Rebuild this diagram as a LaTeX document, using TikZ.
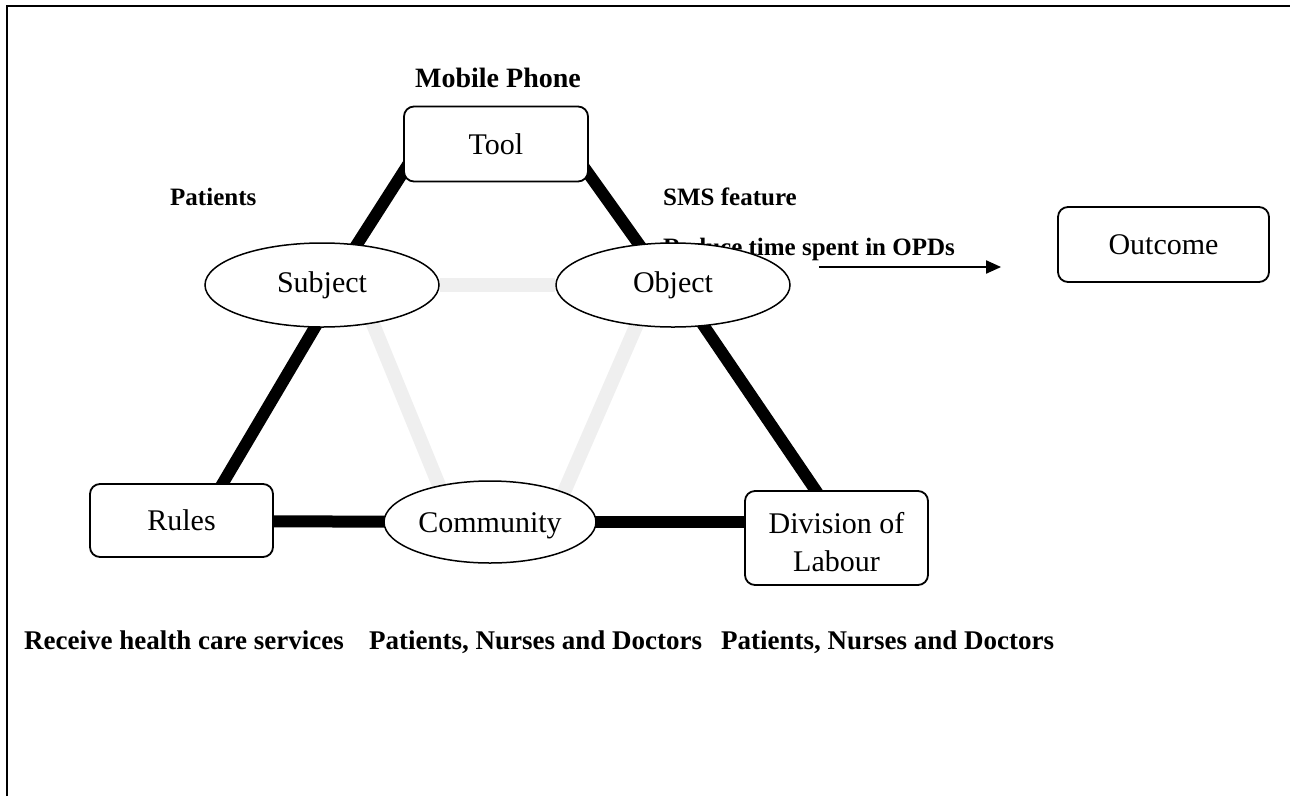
\documentclass[tikz,border=0pt]{standalone}
\usepackage{fontspec}
\setmainfont{Liberation Serif}
\usetikzlibrary{backgrounds,calc,arrows.meta,shapes.geometric}
\definecolor{faintgray}{HTML}{EFEFEF}

\begin{document}
\begin{tikzpicture}[x=1pt,y=-1pt,
  frame/.style={line width=2.2pt},
  box/.style={draw, line width=1.8pt, rounded corners=10pt, fill=white,
    align=center, inner sep=0pt, font=\fontsize{30}{37}\selectfont},
  oval/.style={draw, ellipse, line width=1.5pt, fill=white, inner sep=0pt,
    font=\fontsize{30}{37}\selectfont},
  note/.style={inner sep=0pt, font=\bfseries\fontsize{25}{30}\selectfont},
  bignote/.style={inner sep=0pt, font=\bfseries\fontsize{28}{32}\selectfont},
  footnote/.style={inner sep=0pt, font=\bfseries\fontsize{27}{32}\selectfont},
  heavy/.style={line width=12pt},
  faint/.style={line width=14pt, draw=faintgray},
  flow/.style={line width=2pt, -{Triangle[length=15pt,width=13pt]}},
]
\useasboundingbox (0,0) rectangle (1290,796);

% outer frame
\draw[frame] (7,796) -- (7,6) -- (1290,6);

% annotations
\node[bignote, anchor=base] (phone) at (498,87) {Mobile Phone};
\node[note, anchor=base west] (patients) at (170,205) {Patients};
\node[note, anchor=base west] (sms) at (663,205) {SMS feature};
\node[note, anchor=base west] (reduce) at (663,255) {Reduce time spent in OPDs};

% activity system elements
\node[box, minimum width=184, minimum height=75] (tool) at (496,144) {Tool};
\node[oval, minimum width=234, minimum height=84] (subject) at (322,285) {Subject};
\node[oval, minimum width=234, minimum height=84] (object) at (673,285) {Object};
\node[box, minimum width=183, minimum height=73] (rules) at (181.5,520.5) {Rules};
\node[oval, minimum width=212, minimum height=82] (community) at (490,522)
  {\raisebox{-4pt}[\height][\depth]{Community}};
\node[box, minimum width=183, minimum height=94] (division) at (836.5,538)
  {\raisebox{-7pt}[\height][\depth]{\begin{tabular}{@{}c@{}}Division of\\[0.5pt]Labour\end{tabular}}};
\node[box, minimum width=211, minimum height=75] (outcome) at (1163.5,244.5) {Outcome};

% links between the elements
\begin{pgfonlayer}{background}
  \draw[faint] (subject) -- (object);
  \draw[faint] ($(subject)+(35,0)$) -- ($(community)+(-36,0)$);
  \draw[faint] ($(object)+(-19,0)$) -- ($(community)+(61,0)$);
  \draw[heavy] ($(subject)+(9,0)$) -- ($(tool.south west)+(14,-32)$);
  \draw[heavy] ($(subject)+(18,0)$) -- ($(rules)+(25.5,-10.5)$);
  \draw[heavy] ($(object)+(-5,0)$) -- ($(tool.south east)+(-17,-32)$);
  \draw[heavy] ($(object)+(3,0)$) -- ($(division)+(-7.5,-28)$);
  \draw[heavy] ($(rules)+(0,0.5)$) -- (community.center);
  \draw[heavy] (community.center) -- (community -| division);
\end{pgfonlayer}

% result arrow
\draw[flow] ($(object.east)+(28,-18)$) -- ($(outcome.west)+(-56,22.5)$);

% bottom annotations
\node[footnote, anchor=base west] (receive) at (24,649) {Receive health care services};
\node[footnote, anchor=base west] (members) at (369,649) {Patients, Nurses and Doctors};
\node[footnote, anchor=base west] (labour) at (721,649) {Patients, Nurses and Doctors};
\end{tikzpicture}
\end{document}
